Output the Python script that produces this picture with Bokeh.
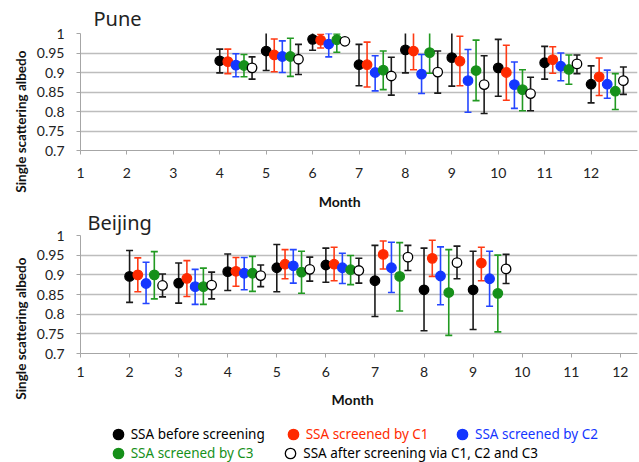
import numpy as np
from bokeh.plotting import figure
from bokeh.layouts import column
from bokeh.models import (Range1d, FixedTicker, Title, Legend, LegendItem,
                          CustomJSTickFormatter)
from bokeh.embed import file_html
from bokeh.resources import INLINE

# ---------------- data ----------------
MONTH_TICKS = [1, 2, 3, 4, 5, 6, 7, 8, 9, 10, 11, 12]
MONTH_LABELS = ["1", "2", "3", "4", "5", "6", "7", "8", "9", "10", "11", "12"]
Y_TICKS = [0.7, 0.75, 0.8, 0.85, 0.9, 0.95, 1.0]
Y_LABELS = ["0.7", "0.75", "0.8", "0.85", "0.9", "0.95", "1"]

SERIES_NAMES = ["SSA before screening", "SSA screened by C1", "SSA screened by C2",
                "SSA screened by C3", "SSA after screening via C1, C2 and C3"]

# Pune
pune_months = [4, 5, 6, 7, 8, 9, 10, 11, 12]
pune_before = [0.930, 0.955, 0.985, 0.920, 0.958, 0.938, 0.912, 0.925, 0.870]
pune_before_lo = [0.899, 0.905, 0.957, 0.866, 0.899, 0.865, 0.839, 0.883, 0.822]
pune_before_hi = [0.960, 1.010, 1.010, 0.972, 1.010, 1.010, 0.985, 0.967, 0.917]
pune_c1 = [0.928, 0.945, 0.983, 0.920, 0.955, 0.929, 0.900, 0.933, 0.889]
pune_c1_lo = [0.897, 0.902, 0.963, 0.863, 0.907, 0.866, 0.829, 0.898, 0.841]
pune_c1_hi = [0.960, 0.986, 0.998, 0.978, 1.010, 0.993, 0.970, 0.966, 0.937]
pune_c2 = [0.919, 0.941, 0.973, 0.900, 0.896, 0.879, 0.869, 0.916, 0.870]
pune_c2_lo = [0.889, 0.900, 0.940, 0.853, 0.846, 0.798, 0.808, 0.879, 0.834]
pune_c2_hi = [0.948, 0.981, 1.000, 0.943, 0.946, 0.959, 0.927, 0.950, 0.906]
pune_c3 = [0.918, 0.941, 0.984, 0.906, 0.951, 0.905, 0.856, 0.908, 0.852]
pune_c3_lo = [0.889, 0.890, 0.952, 0.856, 0.898, 0.828, 0.802, 0.870, 0.805]
pune_c3_hi = [0.946, 0.988, 0.999, 0.955, 1.010, 0.983, 0.907, 0.945, 0.897]
pune_after = [0.912, 0.934, 0.980, 0.891, 0.901, 0.869, 0.846, 0.922, 0.879]
pune_after_lo = [0.883, 0.895, 0.980, 0.842, 0.847, 0.795, 0.802, 0.897, 0.844]
pune_after_hi = [0.940, 0.972, 0.980, 0.939, 0.955, 0.943, 0.888, 0.945, 0.914]

# Beijing
bj_months = [2, 3, 4, 5, 6, 7, 8, 9]
bj_before = [0.896, 0.879, 0.908, 0.918, 0.925, 0.885, 0.862, 0.862]
bj_before_lo = [0.830, 0.828, 0.860, 0.857, 0.881, 0.794, 0.758, 0.761]
bj_before_hi = [0.962, 0.930, 0.953, 0.977, 0.968, 0.975, 0.968, 0.960]
bj_c1 = [0.900, 0.891, 0.909, 0.927, 0.927, 0.952, 0.942, 0.930]
bj_c1_lo = [0.857, 0.845, 0.871, 0.890, 0.885, 0.915, 0.896, 0.885]
bj_c1_hi = [0.943, 0.936, 0.944, 0.964, 0.970, 0.986, 0.988, 0.970]
bj_c2 = [0.878, 0.870, 0.904, 0.923, 0.918, 0.918, 0.897, 0.890]
bj_c2_lo = [0.827, 0.825, 0.862, 0.879, 0.878, 0.855, 0.824, 0.820]
bj_c2_hi = [0.932, 0.914, 0.944, 0.964, 0.955, 0.983, 0.971, 0.960]
bj_c3 = [0.900, 0.870, 0.904, 0.907, 0.913, 0.896, 0.855, 0.853]
bj_c3_lo = [0.839, 0.825, 0.858, 0.853, 0.875, 0.808, 0.746, 0.755]
bj_c3_hi = [0.959, 0.917, 0.947, 0.960, 0.949, 0.982, 0.964, 0.950]
bj_after = [0.873, 0.874, 0.898, 0.914, 0.911, 0.945, 0.931, 0.915]
bj_after_lo = [0.844, 0.839, 0.870, 0.884, 0.879, 0.911, 0.890, 0.878]
bj_after_hi = [0.902, 0.907, 0.925, 0.945, 0.942, 0.975, 0.973, 0.952]

# ---------------- style ----------------
FILL = ["#000000", "#ff2a00", "#1436ff", "#16901a", "#ffffff"]
EDGE = ["#000000", "#ff2a00", "#1436ff", "#16901a", "#000000"]
BAR = ["#1a1a1a", "#ff3a14", "#2446ff", "#229a22", "#1a1a1a"]
TEXT_COL = ["#000000", "#ff2a00", "#1436ff", "#16901a", "#000000"]
GRID = "#bdbdbd"
AXIS = "#a6a6a6"
TICK_FONT = "Lato"
LABEL_FONT = "Lato"


def tick_fmt(tvals, tlabels):
    return CustomJSTickFormatter(args=dict(tvals=tvals, tlabels=tlabels), code="""
        let k = -1;
        for (let j = 0; j < tvals.length; j++) {
            if (Math.abs(tvals[j] - tick) < 1e-9) { k = j; }
        }
        return k >= 0 ? tlabels[k] : '';
    """)


def make_panel(name, months, series, x_end, height, b_top, b_bottom, step,
               x_std, x_lab_std, month_pad, title_off, title_std, ylab_off,
               margin=None):
    p = figure(width=639, height=height, x_range=Range1d(1, x_end),
               y_range=Range1d(0.7, 1.0), output_backend="svg",
               toolbar_location=None, min_border_left=80, min_border_right=2,
               min_border_top=b_top, min_border_bottom=b_bottom, margin=margin)
    p.outline_line_color = None
    p.border_fill_alpha = 0
    p.background_fill_color = "white"
    p.xgrid.grid_line_color = None
    p.ygrid.grid_line_color = GRID
    p.ygrid.grid_line_width = 1.6
    p.yaxis.ticker = FixedTicker(ticks=Y_TICKS)
    p.xaxis.ticker = FixedTicker(ticks=MONTH_TICKS)
    p.yaxis.formatter = tick_fmt(Y_TICKS, Y_LABELS)
    p.xaxis.formatter = tick_fmt(MONTH_TICKS, MONTH_LABELS)
    for ax in (p.xaxis, p.yaxis):
        ax.axis_line_color = AXIS
        ax.major_tick_line_color = AXIS
        ax.major_tick_out = 4
        ax.major_tick_in = 0
        ax.minor_tick_line_color = None
        ax.major_label_text_font = TICK_FONT
        ax.major_label_text_font_size = "14px"
        ax.major_label_text_color = "#222222"
    p.xaxis.major_label_standoff = x_std
    p.yaxis.major_label_standoff = 12

    # x-axis title (padded so that it sits left of the frame centre as in the original)
    p.xaxis.axis_label = "Month" + month_pad
    p.xaxis.axis_label_standoff = x_lab_std
    p.xaxis.axis_label_text_font = LABEL_FONT
    p.xaxis.axis_label_text_font_style = "bold"
    p.xaxis.axis_label_text_font_size = "14px"
    p.xaxis.axis_label_text_color = "#111111"

    p.title.text = name
    p.title.align = "left"
    p.title.offset = title_off
    p.title.text_font = "Noto Sans"
    p.title.text_font_style = "normal"
    p.title.text_font_size = "20px"
    p.title.text_color = "#222222"
    p.title.standoff = title_std

    p.add_layout(Title(text="Single scattering albedo", align="right",
                       offset=ylab_off, text_font=LABEL_FONT,
                       text_font_style="bold", text_font_size="13.5px",
                       text_color="#111111", standoff=10), "left")

    for k, (val, lo, hi) in enumerate(series):
        x = [m + k * step for m in months]
        p.segment(x0=x, y0=lo, x1=x, y1=hi, line_color=BAR[k], line_width=1.6)
        p.scatter(x=x, y=lo, marker="dash", size=7, line_color=BAR[k], line_width=1.6)
        p.scatter(x=x, y=hi, marker="dash", size=7, line_color=BAR[k], line_width=1.6)
        p.scatter(x=x, y=val, marker="circle", size=9.5, fill_color=FILL[k],
                  line_color=EDGE[k], line_width=1.3)
    return p


pune_series = [(pune_before, pune_before_lo, pune_before_hi),
               (pune_c1, pune_c1_lo, pune_c1_hi),
               (pune_c2, pune_c2_lo, pune_c2_hi),
               (pune_c3, pune_c3_lo, pune_c3_hi),
               (pune_after, pune_after_lo, pune_after_hi)]
bj_series = [(bj_before, bj_before_lo, bj_before_hi),
             (bj_c1, bj_c1_lo, bj_c1_hi),
             (bj_c2, bj_c2_lo, bj_c2_hi),
             (bj_c3, bj_c3_lo, bj_c3_hi),
             (bj_after, bj_after_lo, bj_after_hi)]

top = make_panel("Pune", pune_months, pune_series, 13.0, 214, 33, 64, 0.174,
                 13, 12, "\u2003\u2003\u2003\u2002", 13, 4, 17)
# the lower panel is pulled up 10 px so that its title sits in the gap below "Month"
bottom = make_panel("Beijing", bj_months, bj_series, 12.35, 206, 31, 57, 0.168,
                    9, 11, "\u2003\u2006", 7, 0, 22, margin=(-10, 0, 0, 0))

# ---------------- legend strip ----------------
leg = figure(width=639, height=52, x_range=Range1d(0, 1), y_range=Range1d(0, 1),
             x_axis_type=None, y_axis_type=None, toolbar_location=None,
             output_backend="svg", min_border=0)
leg.outline_line_color = None
leg.border_fill_alpha = 0
LEGEND_POS = [(24.7, 15.0), (199.7, 15.0), (369.0, 15.0), (24.7, -4.3), (197.3, -4.3)]
for k, name in enumerate(SERIES_NAMES):
    r = leg.scatter(x=np.array([np.nan]), y=np.array([np.nan]), marker="circle",
                    size=10, fill_color=FILL[k], line_color=EDGE[k], line_width=1.3)
    lg = Legend(items=[LegendItem(label=name, renderers=[r])], location=LEGEND_POS[k],
                glyph_width=26, glyph_height=26, label_standoff=0, padding=0,
                margin=0, spacing=0, border_line_color=None,
                background_fill_alpha=0, label_text_color=TEXT_COL[k],
                label_text_font="Noto Sans", label_text_font_size="13.5px",
                label_height=20)
    leg.add_layout(lg)

layout = column(top, bottom, leg, spacing=0)
open("out.html", "w").write(file_html(layout, INLINE))
